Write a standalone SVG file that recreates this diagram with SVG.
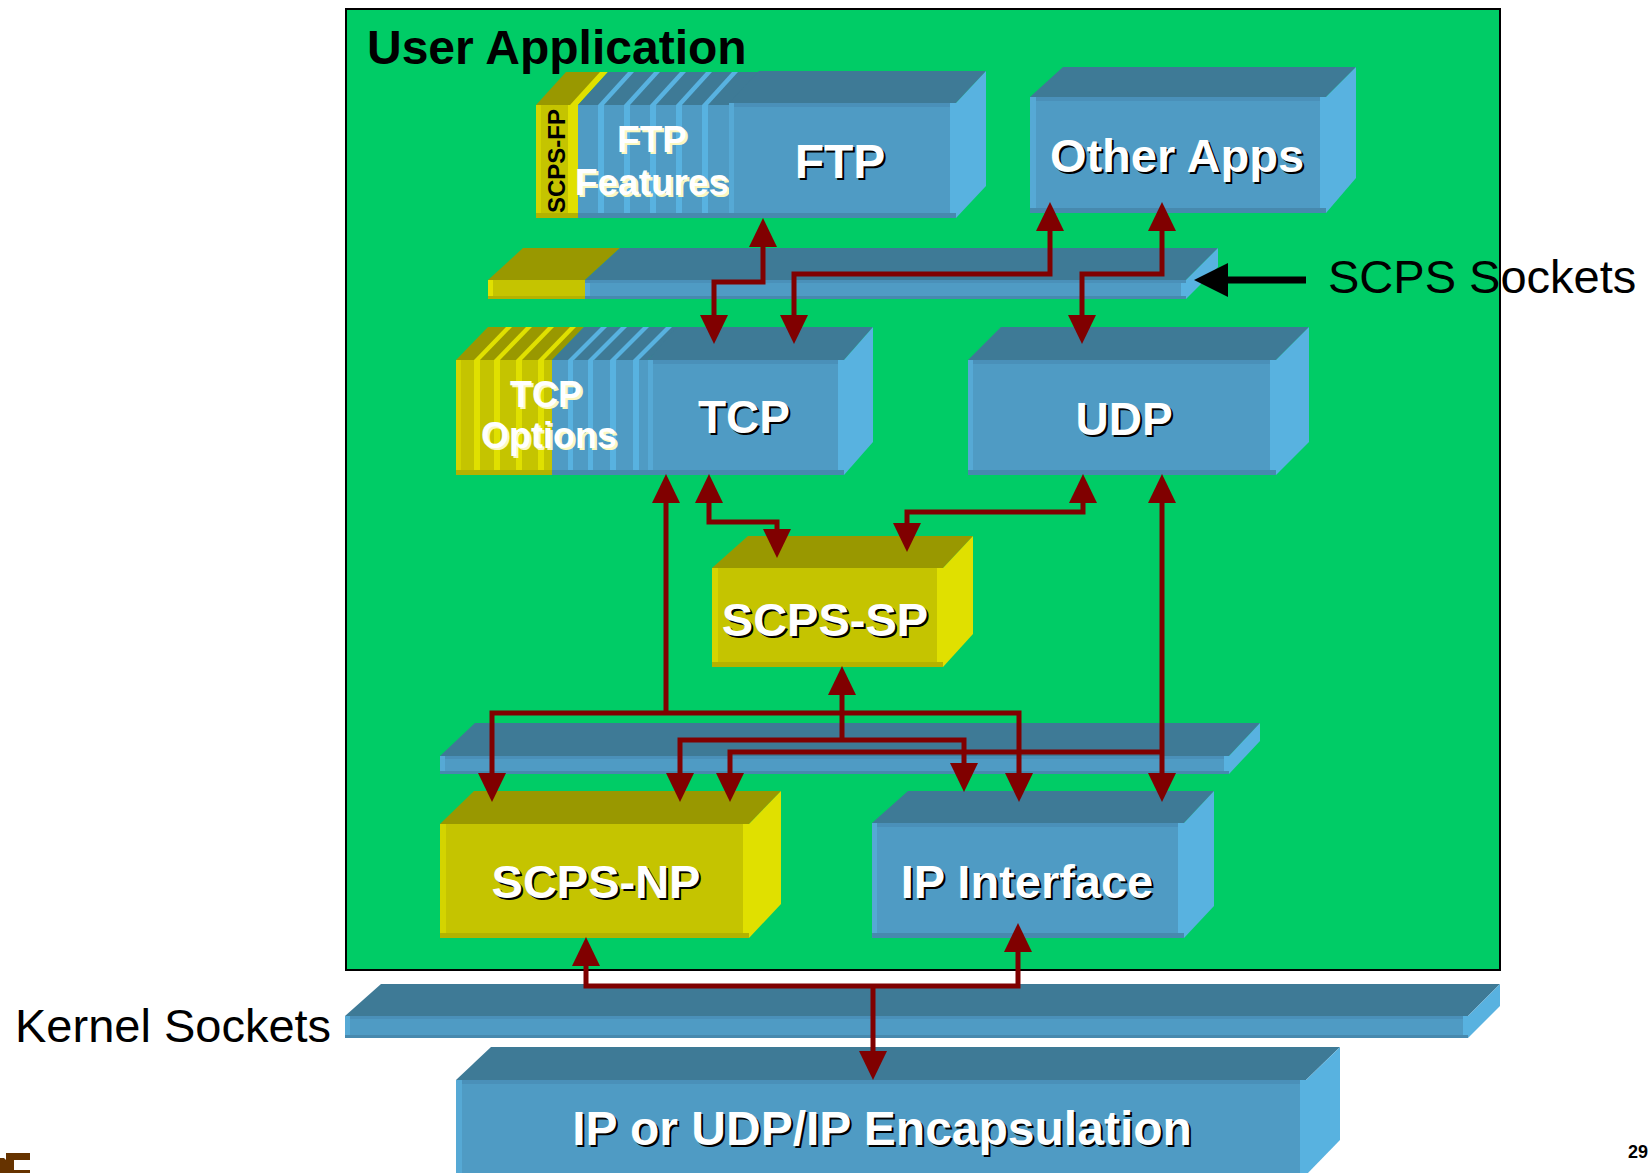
<svg xmlns="http://www.w3.org/2000/svg" width="1650" height="1173" viewBox="0 0 1650 1173">
  <defs>
    <style>
      .bt { fill: #3e7a96; }
      .bf { fill: #4f9bc4; }
      .br { fill: #58b2e0; }
      .bs { fill: #56a9d5; }
      .bk { fill: #4789ae; }
      .btop { fill: #4a90b9; }
      .yt { fill: #999800; }
      .yf { fill: #c5c400; }
      .yr { fill: #e0e000; }
      .ys { fill: #d4d400; }
      .yk { fill: #b3b200; }
      .txt { font-family: "Liberation Sans", Arial, sans-serif; font-weight: bold; text-anchor: middle; }
      .w { fill: #ffffff; }
      .k { fill: #000000; }
      .cream { fill: #fbf8c0; }
      .plain { font-family: "Liberation Sans", Arial, sans-serif; fill: #000000; }
      .conn { fill: none; stroke: #800000; stroke-width: 5; stroke-linejoin: miter; }
    </style>
    <marker id="ah" viewBox="0 0 29 28" refX="23" refY="14" markerWidth="29" markerHeight="28" markerUnits="userSpaceOnUse" orient="auto-start-reverse">
      <path d="M0,0 L29,14 L0,28 Z" fill="#800000"/>
    </marker>
  </defs>

  <rect x="0" y="0" width="1650" height="1173" fill="#ffffff"/>

  <!-- application area -->
  <rect id="user-application" x="346" y="9" width="1154" height="961" fill="#00cc66" stroke="#000000" stroke-width="2"/>
  <text class="plain" x="367" y="64" font-size="48" font-weight="bold">User Application</text>

  <!-- SCPS-FP card -->
  <g id="scps-fp">
    <polygon class="yt" points="536,105 566,72 604,72 578,105"/>
    <polygon class="yr" points="570,105 600,72 608,72 578,105"/>
    <rect class="yf" x="536" y="105" width="42" height="113"/>
    <rect class="ys" x="536" y="105" width="5" height="113"/>
    <rect class="yr" x="568" y="105" width="10" height="113"/>
    <rect class="yk" x="536" y="213" width="42" height="5"/>
    <text class="txt k" font-size="24" transform="translate(565,161) rotate(-90)">SCPS-FP</text>
  </g>

  <!-- FTP feature cards -->
  <g id="ftp-features">
    <polygon class="bt" points="578,105 608,72 759,72 729,105"/>
    <polygon class="br" points="598,105 628,72 634,72 604,105"/>
    <polygon class="br" points="624,105 654,72 660,72 630,105"/>
    <polygon class="br" points="650,105 680,72 686,72 656,105"/>
    <polygon class="br" points="676,105 706,72 712,72 682,105"/>
    <polygon class="br" points="702,105 732,72 738,72 708,105"/>
    <rect class="bf" x="578" y="105" width="151" height="113"/>
    <rect class="br" x="598" y="105" width="6" height="113"/>
    <rect class="br" x="624" y="105" width="6" height="113"/>
    <rect class="br" x="650" y="105" width="6" height="113"/>
    <rect class="br" x="676" y="105" width="6" height="113"/>
    <rect class="br" x="702" y="105" width="6" height="113"/>
    <rect class="bk" x="578" y="213" width="151" height="5"/>
    <text class="txt cream" x="654" y="154" font-size="37">FTP</text>
    <text class="txt w" x="652" y="152" font-size="37">FTP</text>
    <text class="txt cream" x="654" y="197" font-size="37">Features</text>
    <text class="txt w" x="652" y="195" font-size="37">Features</text>
  </g>

  <!-- FTP -->
  <g id="ftp">
    <polygon class="bt" points="729,103 759,71 986,71 956,103"/>
    <polygon class="br" points="956,103 986,71 986,186 956,218"/>
    <rect class="bf" x="729" y="103" width="227" height="115"/>
    <rect class="btop" x="729" y="103" width="227" height="4"/>
    <rect class="bs" x="729" y="103" width="5" height="115"/>
    <rect class="br" x="950" y="103" width="6" height="115"/>
    <rect class="bk" x="729" y="213" width="227" height="5"/>
    <text class="txt k" x="842" y="180" font-size="48">FTP</text>
    <text class="txt w" x="840" y="178" font-size="48">FTP</text>
  </g>

  <!-- Other Apps -->
  <g id="other-apps">
    <polygon class="bt" points="1030,97 1063,67 1356,67 1326,97"/>
    <polygon class="br" points="1326,97 1356,67 1356,178 1326,213"/>
    <rect class="bf" x="1030" y="97" width="296" height="116"/>
    <rect class="btop" x="1030" y="97" width="296" height="4"/>
    <rect class="bs" x="1030" y="97" width="6" height="116"/>
    <rect class="br" x="1320" y="97" width="6" height="116"/>
    <rect class="bk" x="1030" y="208" width="296" height="5"/>
    <text class="txt k" x="1179" y="174" font-size="47">Other Apps</text>
    <text class="txt w" x="1177" y="172" font-size="47">Other Apps</text>
  </g>

  <!-- SCPS Sockets layer -->
  <g id="scps-sockets">
    <polygon class="yt" points="488,280 523,248 620,248 585,280"/>
    <polygon class="bt" points="585,280 620,248 1218,248 1186,280"/>
    <polygon class="br" points="1186,280 1218,248 1218,267 1186,299"/>
    <rect class="yf" x="488" y="280" width="97" height="19"/>
    <rect class="yr" x="488" y="280" width="5" height="19"/>
    <rect class="bf" x="585" y="280" width="601" height="19"/>
    <rect class="bs" x="585" y="280" width="5" height="19"/>
    <rect class="br" x="1181" y="280" width="5" height="19"/>
    <rect class="bk" x="585" y="296" width="601" height="3"/>
    <rect class="btop" x="585" y="280" width="601" height="3"/>
    <rect class="yk" x="488" y="296" width="97" height="3"/>
  </g>
  <g id="scps-sockets-label">
    <rect x="1226" y="276.5" width="80" height="7" fill="#000000"/>
    <polygon points="1194,280 1228,263 1228,297" fill="#000000"/>
    <text class="plain" x="1328" y="293" font-size="47">SCPS Sockets</text>
  </g>

  <!-- TCP option cards -->
  <g id="tcp-options">
    <polygon class="yt" points="456,360 488,327 584,327 552,360"/>
    <polygon class="yr" points="474,360 506,327 512,327 480,360"/>
    <polygon class="yr" points="494,360 526,327 532,327 500,360"/>
    <polygon class="yr" points="516,360 548,327 554,327 522,360"/>
    <polygon class="yr" points="538,360 570,327 576,327 544,360"/>
    <rect class="yf" x="456" y="360" width="96" height="115"/>
    <rect class="ys" x="456" y="360" width="5" height="115"/>
    <rect class="yr" x="474" y="360" width="6" height="115"/>
    <rect class="yr" x="494" y="360" width="6" height="115"/>
    <rect class="yr" x="516" y="360" width="6" height="115"/>
    <rect class="yr" x="538" y="360" width="6" height="115"/>
    <rect class="yk" x="456" y="470" width="96" height="5"/>
    <polygon class="bt" points="552,360 584,327 680,327 648,360"/>
    <polygon class="br" points="568,360 601,327 607,327 574,360"/>
    <polygon class="br" points="588,360 621,327 627,327 594,360"/>
    <polygon class="br" points="610,360 643,327 649,327 616,360"/>
    <polygon class="br" points="633,360 666,327 672,327 639,360"/>
    <rect class="bf" x="552" y="360" width="96" height="115"/>
    <rect class="br" x="568" y="360" width="5" height="115"/>
    <rect class="br" x="588" y="360" width="5" height="115"/>
    <rect class="br" x="610" y="360" width="6" height="115"/>
    <rect class="br" x="633" y="360" width="6" height="115"/>
    <rect class="bk" x="552" y="470" width="96" height="5"/>
    <text class="txt cream" x="548" y="409" font-size="36">TCP</text>
    <text class="txt w" x="546" y="407" font-size="36">TCP</text>
    <text class="txt cream" x="551" y="450" font-size="36">Options</text>
    <text class="txt w" x="549" y="448" font-size="36">Options</text>
  </g>

  <!-- TCP -->
  <g id="tcp">
    <polygon class="bt" points="648,360 677,327 873,327 844,360"/>
    <polygon class="br" points="844,360 873,327 873,442 844,475"/>
    <rect class="bf" x="648" y="360" width="196" height="115"/>
    <rect class="btop" x="648" y="360" width="196" height="4"/>
    <rect class="bs" x="648" y="360" width="5" height="115"/>
    <rect class="br" x="838" y="360" width="6" height="115"/>
    <rect class="bk" x="648" y="470" width="196" height="5"/>
    <text class="txt k" x="746" y="435" font-size="46">TCP</text>
    <text class="txt w" x="744" y="433" font-size="46">TCP</text>
  </g>

  <!-- UDP -->
  <g id="udp">
    <polygon class="bt" points="968,360 1001,327 1309,327 1276,360"/>
    <polygon class="br" points="1276,360 1309,327 1309,442 1276,475"/>
    <rect class="bf" x="968" y="360" width="308" height="115"/>
    <rect class="btop" x="968" y="360" width="308" height="4"/>
    <rect class="bs" x="968" y="360" width="5" height="115"/>
    <rect class="br" x="1270" y="360" width="6" height="115"/>
    <rect class="bk" x="968" y="470" width="308" height="5"/>
    <text class="txt k" x="1126" y="437" font-size="46">UDP</text>
    <text class="txt w" x="1124" y="435" font-size="46">UDP</text>
  </g>

  <!-- SCPS-SP -->
  <g id="scps-sp">
    <polygon class="yt" points="712,568 748,536 973,536 943,568"/>
    <polygon class="yr" points="943,568 973,536 973,634 943,667"/>
    <rect class="yf" x="712" y="568" width="231" height="99"/>
    <rect class="ys" x="712" y="568" width="6" height="99"/>
    <rect class="yr" x="937" y="568" width="6" height="99"/>
    <rect class="yk" x="712" y="662" width="231" height="5"/>
    <text class="txt k" x="827" y="638" font-size="47">SCPS-SP</text>
    <text class="txt w" x="825" y="636" font-size="47">SCPS-SP</text>
  </g>

  <!-- Network layer bar -->
  <g id="network-bar">
    <polygon class="bt" points="440,756 475,723 1260,723 1229,756"/>
    <polygon class="br" points="1229,756 1260,723 1260,741 1229,774"/>
    <rect class="bf" x="440" y="756" width="789" height="18"/>
    <rect class="btop" x="440" y="756" width="789" height="3"/>
    <rect class="bs" x="440" y="756" width="5" height="18"/>
    <rect class="br" x="1224" y="756" width="5" height="18"/>
    <rect class="bk" x="440" y="771" width="789" height="3"/>
  </g>

  <!-- SCPS-NP -->
  <g id="scps-np">
    <polygon class="yt" points="440,824 474,791 781,791 749,824"/>
    <polygon class="yr" points="749,824 781,791 781,904 749,938"/>
    <rect class="yf" x="440" y="824" width="309" height="114"/>
    <rect class="ys" x="440" y="824" width="6" height="114"/>
    <rect class="yr" x="743" y="824" width="6" height="114"/>
    <rect class="yk" x="440" y="933" width="309" height="5"/>
    <text class="txt k" x="598" y="900" font-size="47">SCPS-NP</text>
    <text class="txt w" x="596" y="898" font-size="47">SCPS-NP</text>
  </g>

  <!-- IP Interface -->
  <g id="ip-interface">
    <polygon class="bt" points="872,823 908,791 1214,791 1184,823"/>
    <polygon class="br" points="1184,823 1214,791 1214,906 1184,938"/>
    <rect class="bf" x="872" y="823" width="312" height="115"/>
    <rect class="btop" x="872" y="823" width="312" height="4"/>
    <rect class="bs" x="872" y="823" width="5" height="115"/>
    <rect class="br" x="1178" y="823" width="6" height="115"/>
    <rect class="bk" x="872" y="933" width="312" height="5"/>
    <text class="txt k" x="1029" y="900" font-size="47">IP Interface</text>
    <text class="txt w" x="1027" y="898" font-size="47">IP Interface</text>
  </g>

  <!-- Kernel Sockets bar -->
  <g id="kernel-sockets">
    <polygon class="bt" points="345,1016 381,984 1500,984 1468,1016"/>
    <polygon class="br" points="1468,1016 1500,984 1500,1006 1468,1038"/>
    <rect class="bf" x="345" y="1016" width="1123" height="22"/>
    <rect class="btop" x="345" y="1016" width="1123" height="3"/>
    <rect class="bs" x="345" y="1016" width="5" height="22"/>
    <rect class="br" x="1463" y="1016" width="5" height="22"/>
    <rect class="bk" x="345" y="1035" width="1123" height="3"/>
    <text class="plain" x="15" y="1042" font-size="47">Kernel Sockets</text>
  </g>

  <!-- Encapsulation -->
  <g id="encapsulation">
    <polygon class="bt" points="456,1080 491,1047 1340,1047 1306,1080"/>
    <polygon class="br" points="1306,1080 1340,1047 1340,1140 1306,1175"/>
    <rect class="bf" x="456" y="1080" width="850" height="95"/>
    <rect class="btop" x="456" y="1080" width="850" height="4"/>
    <rect class="bs" x="456" y="1080" width="6" height="95"/>
    <rect class="br" x="1300" y="1080" width="6" height="95"/>
    <text class="txt k" x="884" y="1147" font-size="48">IP or UDP/IP Encapsulation</text>
    <text class="txt w" x="882" y="1145" font-size="48">IP or UDP/IP Encapsulation</text>
  </g>

  <!-- connectors -->
  <g id="connectors">
    <path class="conn" d="M763,224 V282 H714 V338" marker-start="url(#ah)" marker-end="url(#ah)"/>
    <path class="conn" d="M1050,208 V274 H794 V338" marker-start="url(#ah)" marker-end="url(#ah)"/>
    <path class="conn" d="M1162,208 V274 H1082 V338" marker-start="url(#ah)" marker-end="url(#ah)"/>
    <path class="conn" d="M709,480 V522 H777 V552" marker-start="url(#ah)" marker-end="url(#ah)"/>
    <path class="conn" d="M1083,480 V512 H907 V546" marker-start="url(#ah)" marker-end="url(#ah)"/>
    <path class="conn" d="M666,480 V713" marker-start="url(#ah)"/>
    <path class="conn" d="M492,796 V713 H1019 V796" marker-start="url(#ah)" marker-end="url(#ah)"/>
    <path class="conn" d="M842,672 V740" marker-start="url(#ah)"/>
    <path class="conn" d="M680,796 V740 H964 V786" marker-start="url(#ah)" marker-end="url(#ah)"/>
    <path class="conn" d="M1162,480 V796" marker-start="url(#ah)" marker-end="url(#ah)"/>
    <path class="conn" d="M1162,752 H730 V796" marker-end="url(#ah)"/>
    <path class="conn" d="M586,943 V986 H1018 V929" marker-start="url(#ah)" marker-end="url(#ah)"/>
    <path class="conn" d="M873,986 V1074" marker-end="url(#ah)"/>
  </g>

  <!-- corner logo fragment and page number -->
  <path d="M0,1158 H4 L6,1160 V1173 H0 Z M6,1153 H30 V1160 H14 V1170 H30 V1173 H6 Z" fill="#663300"/>
  <text class="plain" x="1628" y="1158" font-size="18" font-weight="bold">29</text>
</svg>
